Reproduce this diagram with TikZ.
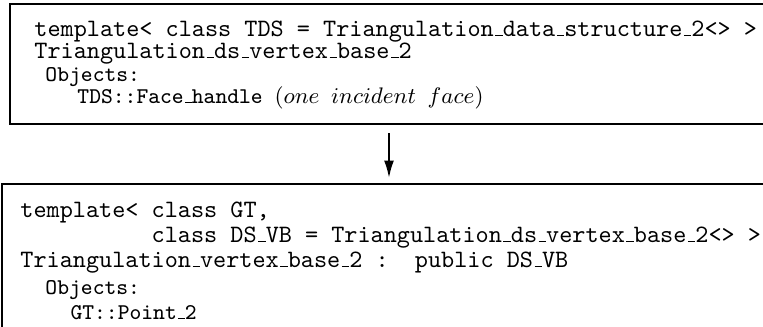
\documentclass[tikz,border=0pt]{standalone}
\usepackage{tikz}
\usetikzlibrary{arrows.meta}

% low, short underscore as in the old OT1 typewriter font
\newcommand\us{\leavevmode\kern.06em\vbox{\hrule width.3em}}

\begin{document}
\begin{tikzpicture}[x=0.4pt, y=-0.4pt, font=\ttfamily,
  txt/.style={anchor=base west, inner sep=0pt},
  objtxt/.style={txt, font=\ttfamily\small}]

%---------------- size parameters ----------------%
\def\picW{763}   % picture width
\def\picH{327}   % picture height
\def\gapTop{124} % bottom of upper box
\def\gapBot{184} % top of lower box
\def\arrX{389}   % x of the arrow

\clip (0,0) rectangle (\picW,\picH);

%---------------- upper box ----------------%
\draw[line width=0.8pt] (10,4) rectangle (800,\gapTop);
\node[txt]    (tdsA) at (34,36)  {template< class TDS = Triangulation\us data\us structure\us 2<> >};
\node[txt]    (tdsB) at (34,58)  {Triangulation\us ds\us vertex\us base\us 2};
\node[objtxt] (tdsC) at (45,81)  {Objects:};
\node[objtxt] (tdsD) at (77,103) {TDS::Face\us handle $(one\ incident\ face)$};

%---------------- lower box ----------------%
\draw[line width=0.8pt] (2,\gapBot) rectangle (800,360);
\node[txt]    (gtA) at (20,217) {template< class GT,};
\node[txt]    (gtB) at (20,242) {\phantom{template< }class DS\us VB = Triangulation\us ds\us vertex\us base\us 2<> >};
\node[txt]    (gtC) at (20,267) {Triangulation\us vertex\us base\us 2 :\ \ public DS\us VB};
\node[objtxt] (gtD) at (45,294) {Objects:};
\node[objtxt] (gtE) at (70,319) {GT::Point\us 2};

%---------------- arrow ----------------%
\coordinate (arrA) at (\arrX,133);
\coordinate (arrB) at (\arrX,178);
\draw[line width=0.8pt, -{Latex[length=7pt, width=4pt]}] (arrA) -- (arrB);

\end{tikzpicture}
\end{document}
